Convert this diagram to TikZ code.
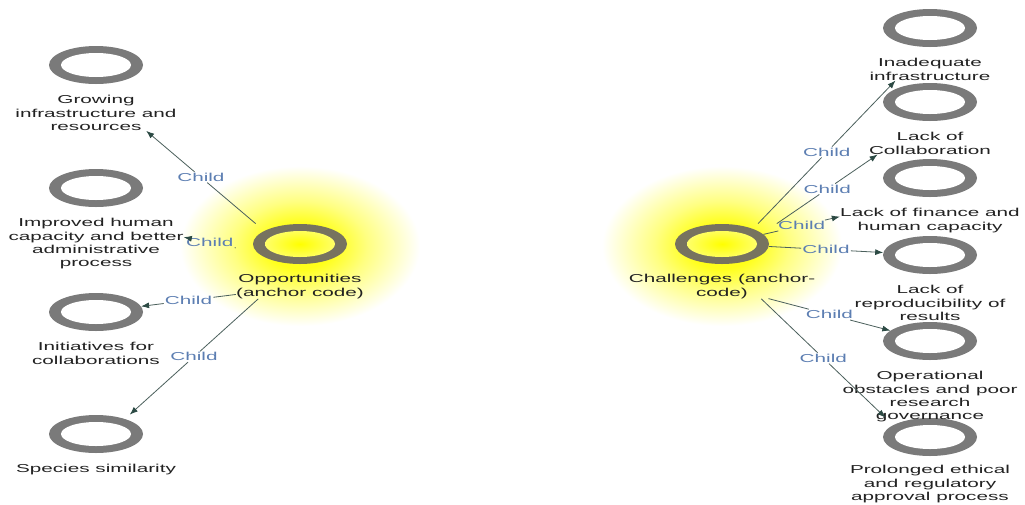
\documentclass[tikz,border=0pt]{standalone}
\usepackage{fontspec}
\setmainfont{Liberation Sans}[FakeStretch=1.8]
\usetikzlibrary{arrows.meta,positioning,fit,shapes.geometric}
\definecolor{RingGray}{HTML}{7A7A7A}
\definecolor{AnchorGray}{HTML}{77735F}
\definecolor{LinkGray}{HTML}{4B605C}
\definecolor{TipGreen}{HTML}{2C4A44}
\definecolor{ChildBlue}{HTML}{5C7EB2}
\definecolor{GlowYellow}{HTML}{FFFF1A}
\definecolor{TextBlack}{HTML}{222222}
\pgfdeclareradialshading{glow}{\pgfpointorigin}{color(0bp)=(GlowYellow);
  color(7bp)=(GlowYellow); color(14bp)=(GlowYellow!55!white);
  color(25bp)=(white); color(50bp)=(white)}

\begin{document}
\begin{tikzpicture}[
  x=1pt, y=-1pt,
  ring/.style={ellipse, minimum width=94pt, minimum height=38pt, inner sep=0pt,
               fill=RingGray,
               path picture={\fill[white] (path picture bounding box.center)
                 ellipse (35 and 12);}},
  hub/.style={ellipse, minimum width=94pt, minimum height=40pt, inner sep=0pt,
              fill=AnchorGray,
              path picture={\shade[inner color=yellow, outer color=yellow!45]
                (path picture bounding box.center) ellipse (35 and 13);}},
  nodetext/.style={inner sep=0pt, align=center, text=TextBlack,
                   font=\fontsize{11.5}{13.3}\selectfont},
  grp/.style={inner sep=0pt},
  childlbl/.style={inner sep=1pt, text=ChildBlue,
                   font=\fontsize{11.5}{13.3}\selectfont},
  link/.style={draw=LinkGray, line width=0.8pt},
  arrowlink/.style={link, -{Latex[length=8pt, width=6pt, color=TipGreen]}}
]
  \path[use as bounding box, fill=white] (0,0) rectangle (1025,504);

  % glow behind the two anchor codes
  \shade[shading=glow] (300,246) ellipse (120 and 80);
  \shade[shading=glow] (722,246) ellipse (120 and 80);

  % opportunities side
  \node[hub]  (opp)  at (300,244) {};
  \node[ring] (grow) at (96,65)   {};
  \node[ring] (impr) at (96,188)  {};
  \node[ring] (init) at (96,312)  {};
  \node[ring] (spec) at (96,434)  {};
  \node[nodetext, below=10pt of opp]  (opp-t)  {Opportunities\\(anchor code)};
  \node[nodetext, below=11pt of grow] (grow-t) {Growing\\infrastructure and\\resources};
  \node[nodetext, below=11pt of impr] (impr-t) {Improved human\\capacity and better\\administrative\\process};
  \node[nodetext, below=11pt of init] (init-t) {Initiatives for\\collaborations};
  \node[nodetext, below=11pt of spec] (spec-t) {Species similarity};
  \node[grp, fit=(opp)(opp-t)]   (opp-g)  {};
  \node[grp, fit=(grow)(grow-t)] (grow-g) {};
  \node[grp, fit=(impr)(impr-t)] (impr-g) {};
  \node[grp, fit=(init)(init-t)] (init-g) {};
  \node[grp, fit=(spec)(spec-t)] (spec-g) {};

  % challenges side
  \node[hub]  (chal) at (722,244) {};
  \node[ring] (inad) at (930,28)  {};
  \node[ring] (coll) at (930,102) {};
  \node[ring] (fin)  at (930,178) {};
  \node[ring] (repr) at (930,255) {};
  \node[ring] (oper) at (930,341) {};
  \node[ring] (prol) at (930,437) {};
  \node[nodetext, below=10pt of chal] (chal-t) {Challenges (anchor-\\code)};
  \node[nodetext, below=11pt of inad] (inad-t) {Inadequate\\infrastructure};
  \node[nodetext, below=11pt of coll] (coll-t) {Lack of\\Collaboration};
  \node[nodetext, below=11pt of fin]  (fin-t)  {Lack of finance and\\human capacity};
  \node[nodetext, below=11pt of repr] (repr-t) {Lack of\\reproducibility of\\results};
  \node[nodetext, below=11pt of oper] (oper-t) {Operational\\obstacles and poor\\research\\governance};
  \node[nodetext, below=9pt of prol]  (prol-t) {Prolonged ethical\\and regulatory\\approval process};
  \node[grp, fit=(chal)(chal-t)] (chal-g) {};
  \node[grp, fit=(inad)(inad-t)] (inad-g) {};
  \node[grp, fit=(coll)(coll-t)] (coll-g) {};
  \node[grp, fit=(fin)(fin-t)]   (fin-g)  {};
  \node[grp, fit=(repr)(repr-t)] (repr-g) {};
  \node[grp, fit=(oper)(oper-t)] (oper-g) {};
  \node[grp, fit=(prol)(prol-t)] (prol-g) {};

  % child links, opportunities
  \path (opp-g) -- node[childlbl] (c1) {Child} (grow-g);
  \draw[link] (opp-g) -- (c1);
  \draw[arrowlink] (c1) -- (grow-g);
  \path (opp-g) -- node[childlbl] (c2) {Child} (impr-g);
  \draw[link] (opp-g) -- (c2);
  \draw[arrowlink] (c2) -- (impr-g);
  \path (opp-t) -- node[childlbl] (c3) {Child} (init);
  \draw[link] (opp-t) -- (c3);
  \draw[arrowlink] (c3) -- (init);
  \path (opp-g) -- node[childlbl] (c4) {Child} (spec-g);
  \draw[link] (opp-g) -- (c4);
  \draw[arrowlink] (c4) -- (spec-g);

  % child links, challenges
  \path (chal-g) -- node[childlbl] (c5) {Child} (inad-g);
  \draw[link] (chal-g) -- (c5);
  \draw[arrowlink] (c5) -- (inad-g);
  \path (chal-g) -- node[childlbl] (c6) {Child} (coll-g);
  \draw[link] (chal-g) -- (c6);
  \draw[arrowlink] (c6) -- (coll-g);
  \path (chal) -- node[childlbl] (c7) {Child} (fin-g);
  \draw[link] (chal) -- (c7);
  \draw[arrowlink] (c7) -- (fin-g);
  \path (chal) -- node[childlbl] (c8) {Child} (repr);
  \draw[link] (chal) -- (c8);
  \draw[arrowlink] (c8) -- (repr);
  \path (chal-t) -- node[childlbl] (c9) {Child} (oper);
  \draw[link] (chal-t) -- (c9);
  \draw[arrowlink] (c9) -- (oper);
  \path (chal-g) -- node[childlbl] (c10) {Child} (prol-g);
  \draw[link] (chal-g) -- (c10);
  \draw[arrowlink] (c10) -- (prol-g);
\end{tikzpicture}
\end{document}
